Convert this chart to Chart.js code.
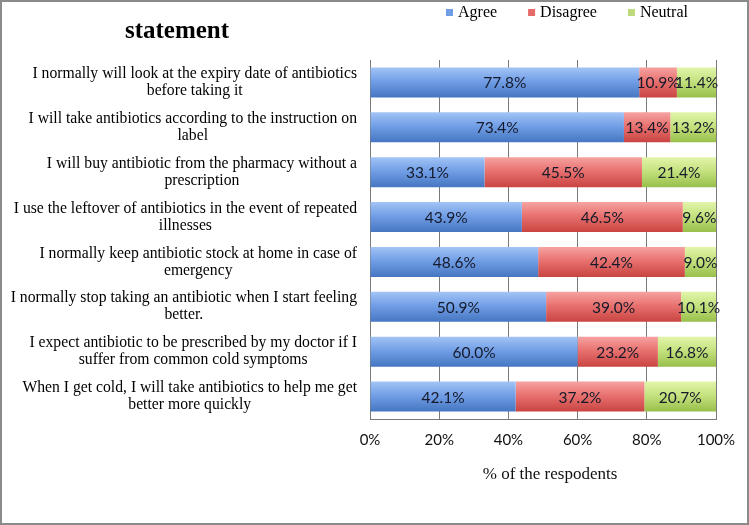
<!DOCTYPE html>
<html><head><meta charset="utf-8">
<script src="https://cdn.jsdelivr.net/npm/chart.js@4/dist/chart.umd.min.js"></script>
<style>html,body{margin:0;padding:0;background:#fff}#wrap{width:749px;height:525px;position:relative}canvas{display:block}</style>
</head><body><div id="wrap"><canvas id="c" width="749" height="525"></canvas></div>
<script>
const categories = [
  ["I normally will look at the expiry date of antibiotics", "before taking it"],
  ["I will take antibiotics according to the instruction on", "label"],
  ["I will buy antibiotic from the pharmacy without a", "prescription"],
  ["I use the leftover of antibiotics in the event of repeated", "illnesses"],
  ["I normally keep antibiotic stock at home in case of", "emergency"],
  ["I normally stop taking an antibiotic when I start feeling", "better."],
  ["I expect antibiotic to be prescribed by my doctor if I", "suffer from common cold symptoms"],
  ["When I get cold, I will take antibiotics to help me get", "better more quickly"]
];
const seriesNames = ["Agree", "Disagree", "Neutral"];
const agree    = [77.8, 73.4, 33.1, 43.9, 48.6, 50.9, 60.0, 42.1];
const disagree = [10.9, 13.4, 45.5, 46.5, 42.4, 39.0, 23.2, 37.2];
const neutral  = [11.4, 13.2, 21.4,  9.6,  9.0, 10.1, 16.8, 20.7];
const xTicks = [0, 20, 40, 60, 80, 100];
const chartTitle = "statement";
const xAxisTitle = "% of the respodents";

const BAR_PCT = 0.67;
const blueStops  = [[0, '#a3c4f6'], [0.45, '#729fe6'], [1, '#4676c2']];
const redStops   = [[0, '#f6a3a1'], [0.45, '#e87270'], [1, '#c94441']];
const greenStops = [[0, '#e2f5aa'], [0.45, '#c5e280'], [1, '#98bf4a']];

function grad(stops, fallback) {
  return (ctx) => {
    const chart = ctx.chart;
    const ys = chart.scales && chart.scales.y;
    if (!chart.chartArea || !ys || ctx.type !== 'data') return fallback;
    const yc = ys.getPixelForValue(ctx.dataIndex);
    const pitch = Math.abs(ys.getPixelForValue(1) - ys.getPixelForValue(0));
    const h = pitch * BAR_PCT / 2;
    const g = chart.ctx.createLinearGradient(0, yc - h, 0, yc + h);
    stops.forEach(([o, c]) => g.addColorStop(o, c));
    return g;
  };
}

const SERIF = "'Liberation Serif', 'Times New Roman', serif";
const SANS = "Lato, 'Open Sans', sans-serif";

const decor = {
  id: 'decor',
  afterDraw(chart) {
    const ctx = chart.ctx;
    ctx.save();
    // frame
    ctx.strokeStyle = '#8a8a8a';
    ctx.lineWidth = 2;
    ctx.strokeRect(1, 1, chart.width - 2, chart.height - 2);
    // title
    ctx.fillStyle = '#000';
    ctx.font = "bold 25px " + SERIF;
    ctx.textAlign = 'center';
    ctx.textBaseline = 'middle';
    ctx.fillText(chartTitle, 177, 32);
    // x axis title
    ctx.font = "17px " + SERIF;
    ctx.fillStyle = '#111';
    ctx.fillText(xAxisTitle, 550, 475);
    // legend
    const legendColors = ['#6f9ee6', '#e56b69', '#bddb7a'];
    let x = 446;
    ctx.font = "16px " + SERIF;
    ctx.fillStyle = '#000';
    ctx.textAlign = 'left';
    seriesNames.forEach((n, i) => {
      ctx.fillStyle = legendColors[i];
      ctx.fillRect(x, 9, 7, 7);
      ctx.fillStyle = '#000';
      ctx.fillText(n, x + 12, 13);
      x = x + 12 + ctx.measureText(n).width + 31;
    });
    // category labels
    const ys = chart.scales.y;
    ctx.font = "15.7px " + SERIF;
    ctx.fillStyle = '#000';
    ctx.textAlign = 'center';
    categories.forEach((lines, i) => {
      const yc = ys.getPixelForValue(i);
      const w = Math.max(...lines.map(l => ctx.measureText(l).width));
      const cx = 357 - w / 2;
      lines.forEach((l, j) => {
        ctx.fillText(l, cx, yc + (j - (lines.length - 1) / 2) * 17);
      });
    });
    ctx.restore();
  },
  afterDatasetsDraw(chart) {
    const ctx = chart.ctx;
    ctx.save();
    ctx.font = "15.5px " + SANS;
    ctx.fillStyle = '#151a2a';
    ctx.textAlign = 'center';
    ctx.textBaseline = 'middle';
    chart.data.datasets.forEach((ds, di) => {
      const meta = chart.getDatasetMeta(di);
      meta.data.forEach((el, i) => {
        const p = el.getProps(['x', 'base', 'y'], true);
        ctx.fillText(ds.data[i].toFixed(1) + '%', (p.x + p.base) / 2, p.y + 1);
      });
    });
    ctx.restore();
  }
};

new Chart(document.getElementById('c'), {
  type: 'bar',
  data: {
    labels: categories.map(c => c.join(' ')),
    datasets: [
      { label: seriesNames[0], data: agree, backgroundColor: grad(blueStops, '#6f9ee6') },
      { label: seriesNames[1], data: disagree, backgroundColor: grad(redStops, '#e56b69') },
      { label: seriesNames[2], data: neutral, backgroundColor: grad(greenStops, '#bddb7a') }
    ]
  },
  options: {
    indexAxis: 'y',
    responsive: false,
    animation: false,
    devicePixelRatio: 1,
    datasets: { bar: { barPercentage: BAR_PCT, categoryPercentage: 1, borderWidth: 0 } },
    layout: { padding: { top: 60, right: 33, left: 0, bottom: 0 } },
    plugins: { legend: { display: false }, tooltip: { enabled: false } },
    scales: {
      x: {
        stacked: true, min: 0, max: 100,
        afterBuildTicks: s => { s.ticks = xTicks.map(v => ({ value: v })); },
        afterFit: s => { s.height = 106; },
        grid: { color: '#7a7a7a', drawTicks: false, lineWidth: 1 },
        border: { display: true, color: '#7a7a7a' },
        ticks: { padding: 12, color: '#111', font: { family: SANS, size: 15 }, callback: v => v + '%' },
        title: { display: false, text: xAxisTitle }
      },
      y: {
        stacked: true,
        afterFit: s => { s.width = 370; },
        grid: { display: false },
        border: { display: true, color: '#7a7a7a' },
        ticks: { display: false }
      }
    }
  },
  plugins: [decor]
});
</script>
</body></html>
